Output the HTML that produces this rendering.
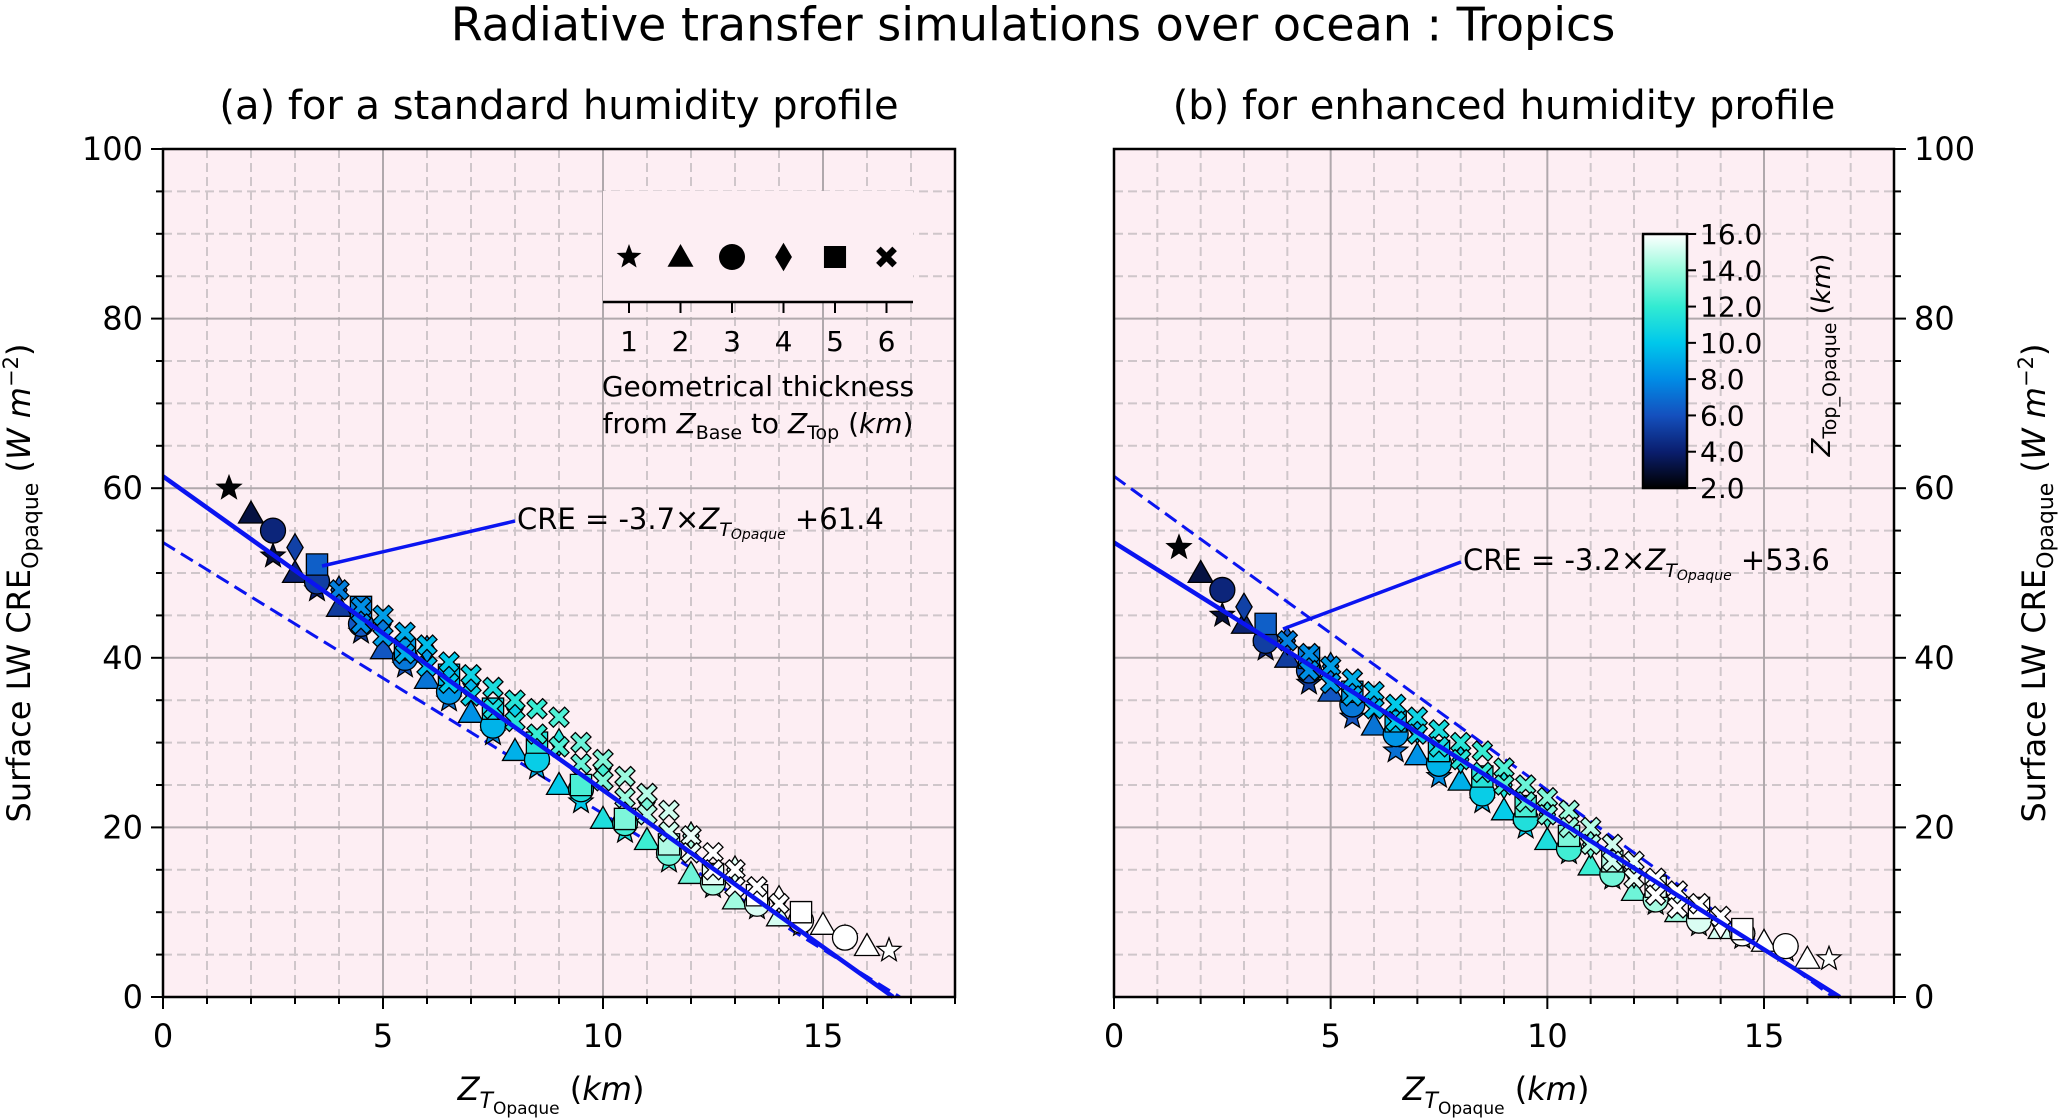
<!DOCTYPE html>
<html><head><meta charset="utf-8">
<style>
body{margin:0;background:#fff;}
svg{display:block;font-family:"DejaVu Sans","Liberation Sans",sans-serif;}
</style></head>
<body>
<svg id="fig" width="2067" height="1118" viewBox="0 0 2067 1118" xmlns="http://www.w3.org/2000/svg">
<text x="1033" y="28" font-size="46" text-anchor="middle" dominant-baseline="middle">Radiative transfer simulations over ocean : Tropics</text>
</svg>
<script>
// ---- data ----
const xTicks = [0, 5, 10, 15];
const yTicks = [0, 20, 40, 60, 80, 100];
const cbTicks = [2, 4, 6, 8, 10, 12, 14, 16];
const thickness = [1, 2, 3, 4, 5, 6, 6];
const markerNames = ['star', 'triangle', 'circle', 'diamond', 'square', 'cross', 'cross'];
// panel a
const aStarX = [1.5,2.5,3.5,4.5,5.5,6.5,7.5,8.5,9.5,10.5,11.5,12.5,13.5,14.5,15.5,16.5];
const aStarY = [60,52,48,43,39,35,31,27,23,19.5,16,13,10.5,8.5,7,5.5];
const aTriX = [2,3,4,5,6,7,8,9,10,11,12,13,14,15,16];
const aTriY = [57,50,46,41,37.5,33.5,29,25,21,18.5,14.5,11.5,9.5,8.5,6];
const aCirX = [2.5,3.5,4.5,5.5,6.5,7.5,8.5,9.5,10.5,11.5,12.5,13.5,14.5,15.5];
const aCirY = [55,49,44,40,36,32,28,24.5,20.5,17,13.5,11,9,7];
const aDiaX = [3,4,5,6,7,8,9,10,11,12,13,14];
const aDiaY = [53,48,44,41,37,34,30,27,23,19,15,11.5];
const aSqX = [3.5,4.5,5.5,6.5,7.5,8.5,9.5,10.5,11.5,12.5,13.5,14.5];
const aSqY = [51,46,41,38,34,30,25,21,18,14.5,12,10];
const aCrX = [4,4.5,5,5.5,6,6.5,7,7.5,8,8.5,9,9.5,10,10.5,11,11.5,12,12.5,13,13.5,14];
const aCrY = [48,46,45,43,41.5,39.5,38,36.5,35,34,33,30,28,26,24,22,19,17,15,13,11];
const aCrLowX = [4.5,5,5.5,6,6.5,7,7.5,8,8.5,9,9.5,10,10.5,11,11.5,12,12.5,13];
const aCrLowY = [44,42.5,40.5,39,37,35.5,34,32.5,31,29.5,27.5,25.5,23.5,21.5,19.5,17,15,13];
// panel b
const bStarX = [1.5,2.5,3.5,4.5,5.5,6.5,7.5,8.5,9.5,10.5,11.5,12.5,13.5,14.5,15.5,16.5];
const bStarY = [53,45,41,37,33,29,26,23,20,17,14,11,8.5,7,5.5,4.5];
const bTriX = [2,3,4,5,6,7,8,9,10,11,12,13,14,15,16];
const bTriY = [50,44,40,36,32,28.5,25.5,22,18.5,15.5,12.5,10,8,6.5,4.5];
const bCirX = [2.5,3.5,4.5,5.5,6.5,7.5,8.5,9.5,10.5,11.5,12.5,13.5,14.5,15.5];
const bCirY = [48,42,38.5,34.5,31,27.5,24,21,17.5,14.5,11.5,9,7.5,6];
const bDiaX = [3,4,5,6,7,8,9,10,11,12,13,14];
const bDiaY = [46,42,39,35,31.5,28,25,21.5,18,14.5,11.5,8.5];
const bSqX = [3.5,4.5,5.5,6.5,7.5,8.5,9.5,10.5,11.5,12.5,13.5,14.5];
const bSqY = [44,40,36,32.5,29,26,22.5,19,16,13,10.5,8];
const bCrX = [4,4.5,5,5.5,6,6.5,7,7.5,8,8.5,9,9.5,10,10.5,11,11.5,12,12.5,13,13.5,14];
const bCrY = [42,40.5,39,37.5,36,34.5,33,31.5,30,29,27,25,23.5,22,20,18,16,14,12.5,11,9.5];
const bCrLowX = [4.5,5,5.5,6,6.5,7,7.5,8,8.5,9,9.5,10,10.5,11,11.5,12,12.5,13];
const bCrLowY = [38.5,37,35.5,34,32.5,31,29.5,28,26.5,25,23,21.5,20,18,16,14,12,10.5];
const fitA = [-3.7, 61.4];
const fitB = [-3.2, 53.6];

const NS = 'http://www.w3.org/2000/svg';
const svg = document.getElementById('fig');
function el(tag, attrs, parent){const e=document.createElementNS(NS,tag);for(const k in attrs)e.setAttribute(k,attrs[k]);(parent||svg).appendChild(e);return e;}

const stops=[[2,[0,0,0]],[4,[10,30,110]],[6,[20,80,190]],[8,[0,140,230]],[10,[0,200,235]],[12,[50,235,210]],[14,[150,250,220]],[16,[255,255,255]]];
function cmap(v){v=Math.max(2,Math.min(16,v));for(let i=0;i<stops.length-1;i++){const[a,c1]=stops[i],[b,c2]=stops[i+1];if(v<=b){const t=(v-a)/(b-a);return 'rgb('+c1.map((c,j)=>Math.round(c+(c2[j]-c)*t)).join(',')+')';}}return '#fff';}

function markerPath(type,cx,cy,r){
  if(type==='star'){let p='';for(let i=0;i<10;i++){const rr=i%2?r*0.42:r;const a=-Math.PI/2+i*Math.PI/5;p+=(i?'L':'M')+(cx+rr*Math.cos(a)).toFixed(1)+','+(cy+rr*Math.sin(a)).toFixed(1);}return p+'Z';}
  if(type==='triangle')return `M${cx},${cy-r}L${cx+r},${cy+r*0.75}L${cx-r},${cy+r*0.75}Z`;
  if(type==='circle')return `M${cx-r},${cy}a${r},${r} 0 1,0 ${2*r},0a${r},${r} 0 1,0 ${-2*r},0Z`;
  if(type==='diamond')return `M${cx},${cy-r*1.1}L${cx+r*0.65},${cy}L${cx},${cy+r*1.1}L${cx-r*0.65},${cy}Z`;
  if(type==='square')return `M${cx-r*0.85},${cy-r*0.85}h${1.7*r}v${1.7*r}h${-1.7*r}Z`;
  const w=r*0.35,s=r*0.8;
  return `M${cx-s},${cy-s+w}L${cx-s+w},${cy-s}L${cx},${cy-w}L${cx+s-w},${cy-s}L${cx+s},${cy-s+w}L${cx+w},${cy}L${cx+s},${cy+s-w}L${cx+s-w},${cy+s}L${cx},${cy+w}L${cx-s+w},${cy+s}L${cx-s},${cy+s-w}L${cx-w},${cy}Z`;
}

const T=149,B=997;
function panel(p){
  const L=p.left,R=p.right;
  const sx=v=>L+(v/18)*(R-L), sy=v=>B-(v/100)*(B-T);
  const g=el('g',{});
  
  
  el('rect',{x:L,y:T,width:R-L,height:B-T,fill:'#fdeef3'},g);
  for(let x=1;x<18;x++){if(x%5)el('line',{x1:sx(x),x2:sx(x),y1:T,y2:B,stroke:'#cfc6ca','stroke-width':2,'stroke-dasharray':'9,5'},g);}
  for(let y=5;y<100;y+=5){if(y%20)el('line',{x1:L,x2:R,y1:sy(y),y2:sy(y),stroke:'#cfc6ca','stroke-width':2,'stroke-dasharray':'9,5'},g);}
  xTicks.forEach(x=>{if(x>0)el('line',{x1:sx(x),x2:sx(x),y1:T,y2:B,stroke:'#b0a8ac','stroke-width':2},g);});
  yTicks.forEach(y=>{if(y>0&&y<100)el('line',{x1:L,x2:R,y1:sy(y),y2:sy(y),stroke:'#b0a8ac','stroke-width':2},g);});
  const xs=p.solid, xd=p.dash;
  const xe=v=>-v[1]/v[0];
  const da=el('line',{x1:sx(0),y1:sy(xd[1]),x2:sx(xe(xd)),y2:sy(0),stroke:'#0a14f0','stroke-width':3,'stroke-dasharray':'14,7'},g);
  
  
  p.series.forEach((s,i)=>{
    s[0].forEach((x,j)=>{
      const m=el('path',{d:markerPath(markerNames[i],sx(x),sy(s[1][j]),12.5),fill:cmap(x+thickness[i]*0.6),stroke:'#000','stroke-width':1.3},g);
      
      
    });
  });
  const sol=el('line',{x1:sx(0),y1:sy(xs[1]),x2:sx(xe(xs)),y2:sy(0),stroke:'#0a14f0','stroke-width':4.5},g);
  
  
  el('line',{x1:p.arrow[0],y1:p.arrow[1],x2:p.arrow[2],y2:p.arrow[3],stroke:'#0a14f0','stroke-width':3.5},g);
  const an=el('text',{x:p.arrow[0]+2,y:p.arrow[1],'font-size':29,'dominant-baseline':'middle'},g);
  
  
  an.innerHTML=`CRE = ${xs[0].toFixed(1)}×<tspan font-style="italic">Z</tspan><tspan font-style="italic" font-size="19" dy="9">T</tspan><tspan font-style="italic" font-size="14" dy="5">Opaque</tspan><tspan dy="-14"> +${xs[1].toFixed(1)}</tspan>`;
  el('rect',{x:L,y:T,width:R-L,height:B-T,fill:'none',stroke:'#000','stroke-width':2.5},g);
  for(let x=0;x<=18;x++){el('line',{x1:sx(x),x2:sx(x),y1:B,y2:B+(x%5?7:12),stroke:'#000','stroke-width':2},g);}
  xTicks.forEach(x=>{const t=el('text',{x:sx(x),y:B+50,'font-size':32,'text-anchor':'middle'},g);t.textContent=x;
    
    });
  const yAxX=p.yRight?R:L, dir=p.yRight?1:-1;
  for(let y=0;y<=100;y+=5){el('line',{x1:yAxX,x2:yAxX+dir*(y%20?7:12),y1:sy(y),y2:sy(y),stroke:'#000','stroke-width':2},g);}
  yTicks.forEach(y=>{const t=el('text',{x:yAxX+dir*20,y:sy(y)+11,'font-size':32,'text-anchor':p.yRight?'start':'end'},g);t.textContent=y;
    
    });
  const xl=el('text',{x:(L+R)/2-8,y:1100,'font-size':32,'text-anchor':'middle'},g);
  
  
  xl.innerHTML='<tspan font-style="italic">Z</tspan><tspan font-style="italic" font-size="22" dy="8">T</tspan><tspan font-size="17" dy="6">Opaque</tspan><tspan dy="-14"> (</tspan><tspan font-style="italic">km</tspan>)';
  const yx=p.yRight?2045:30;
  const yl=el('text',{x:yx,y:(T+B)/2+10,'font-size':32,'text-anchor':'middle',transform:`rotate(-90 ${yx} ${(T+B)/2+10})`},g);
  
  
  yl.innerHTML='Surface LW CRE<tspan font-size="22" dy="8">Opaque</tspan><tspan dy="-8"> (</tspan><tspan font-style="italic">W m</tspan><tspan font-size="21" dy="-12">−2</tspan><tspan dy="12">)</tspan>';
  const st=el('text',{x:(L+R)/2,y:108,'font-size':40,'text-anchor':'middle','dominant-baseline':'middle'},g);
  st.textContent=p.title;
  
  
}

panel({name:'panel-a',left:163,right:955,yRight:false,solid:fitA,dash:fitB,title:'(a) for a standard humidity profile',
  arrow:[515,521,322,566],
  series:[[aStarX,aStarY],[aTriX,aTriY],[aCirX,aCirY],[aDiaX,aDiaY],[aSqX,aSqY],[aCrX,aCrY],[aCrLowX,aCrLowY]]});
panel({name:'panel-b',left:1114,right:1894,yRight:true,solid:fitB,dash:fitA,title:'(b) for enhanced humidity profile',
  arrow:[1461,562,1283,629],
  series:[[bStarX,bStarY],[bTriX,bTriY],[bCirX,bCirY],[bDiaX,bDiaY],[bSqX,bSqY],[bCrX,bCrY],[bCrLowX,bCrLowY]]});

// marker legend in panel a
const lg=el('g',{});


el('rect',{x:603,y:191,width:310,height:111,fill:'#fdeef3'},lg);
el('line',{x1:603,x2:913,y1:302,y2:302,stroke:'#000','stroke-width':2.5},lg);
thickness.slice(0,6).forEach((t,i)=>{
  const cx=629+i*51.5;
  const m=el('path',{d:markerPath(markerNames[i],cx,257,13),fill:'#000'},lg);
  
  
  el('line',{x1:cx,x2:cx,y1:302,y2:313,stroke:'#000','stroke-width':2},lg);
  const tx=el('text',{x:cx,y:351,'font-size':28,'text-anchor':'middle'},lg);tx.textContent=t;
  
  
});
const l1=el('text',{x:758,y:396,'font-size':28,'text-anchor':'middle'},lg);l1.textContent='Geometrical thickness';


const l2=el('text',{x:758,y:433,'font-size':28,'text-anchor':'middle'},lg);


l2.innerHTML='from <tspan font-style="italic">Z</tspan><tspan font-size="19" dy="6">Base</tspan><tspan dy="-6"> to </tspan><tspan font-style="italic">Z</tspan><tspan font-size="19" dy="6">Top</tspan><tspan dy="-6"> (</tspan><tspan font-style="italic">km</tspan>)';

// colorbar
const cb=el('g',{});


const defs=el('defs',{},cb);
const gr=el('linearGradient',{id:'cbg',x1:0,y1:1,x2:0,y2:0},defs);
stops.forEach(s=>el('stop',{offset:((s[0]-2)/14),'stop-color':cmap(s[0])},gr));
const cbT=234,cbB=488;
el('rect',{x:1643,y:cbT,width:44,height:cbB-cbT,fill:'url(#cbg)',stroke:'#000','stroke-width':2.5},cb);
cbTicks.forEach(v=>{const y=cbB-(v-2)/14*(cbB-cbT);
  el('line',{x1:1687,x2:1696,y1:y,y2:y,stroke:'#000','stroke-width':2},cb);
  const t=el('text',{x:1700,y:y+10,'font-size':28},cb);t.textContent=v.toFixed(1);
  
  });
const cbl=el('text',{x:1830,y:355,'font-size':26,'text-anchor':'middle',transform:'rotate(-90 1830 355)'},cb);


cbl.innerHTML='<tspan font-style="italic">Z</tspan><tspan font-size="19" dy="6">Top_Opaque</tspan><tspan dy="-6"> (</tspan><tspan font-style="italic">km</tspan>)';
</script>
</body></html>
